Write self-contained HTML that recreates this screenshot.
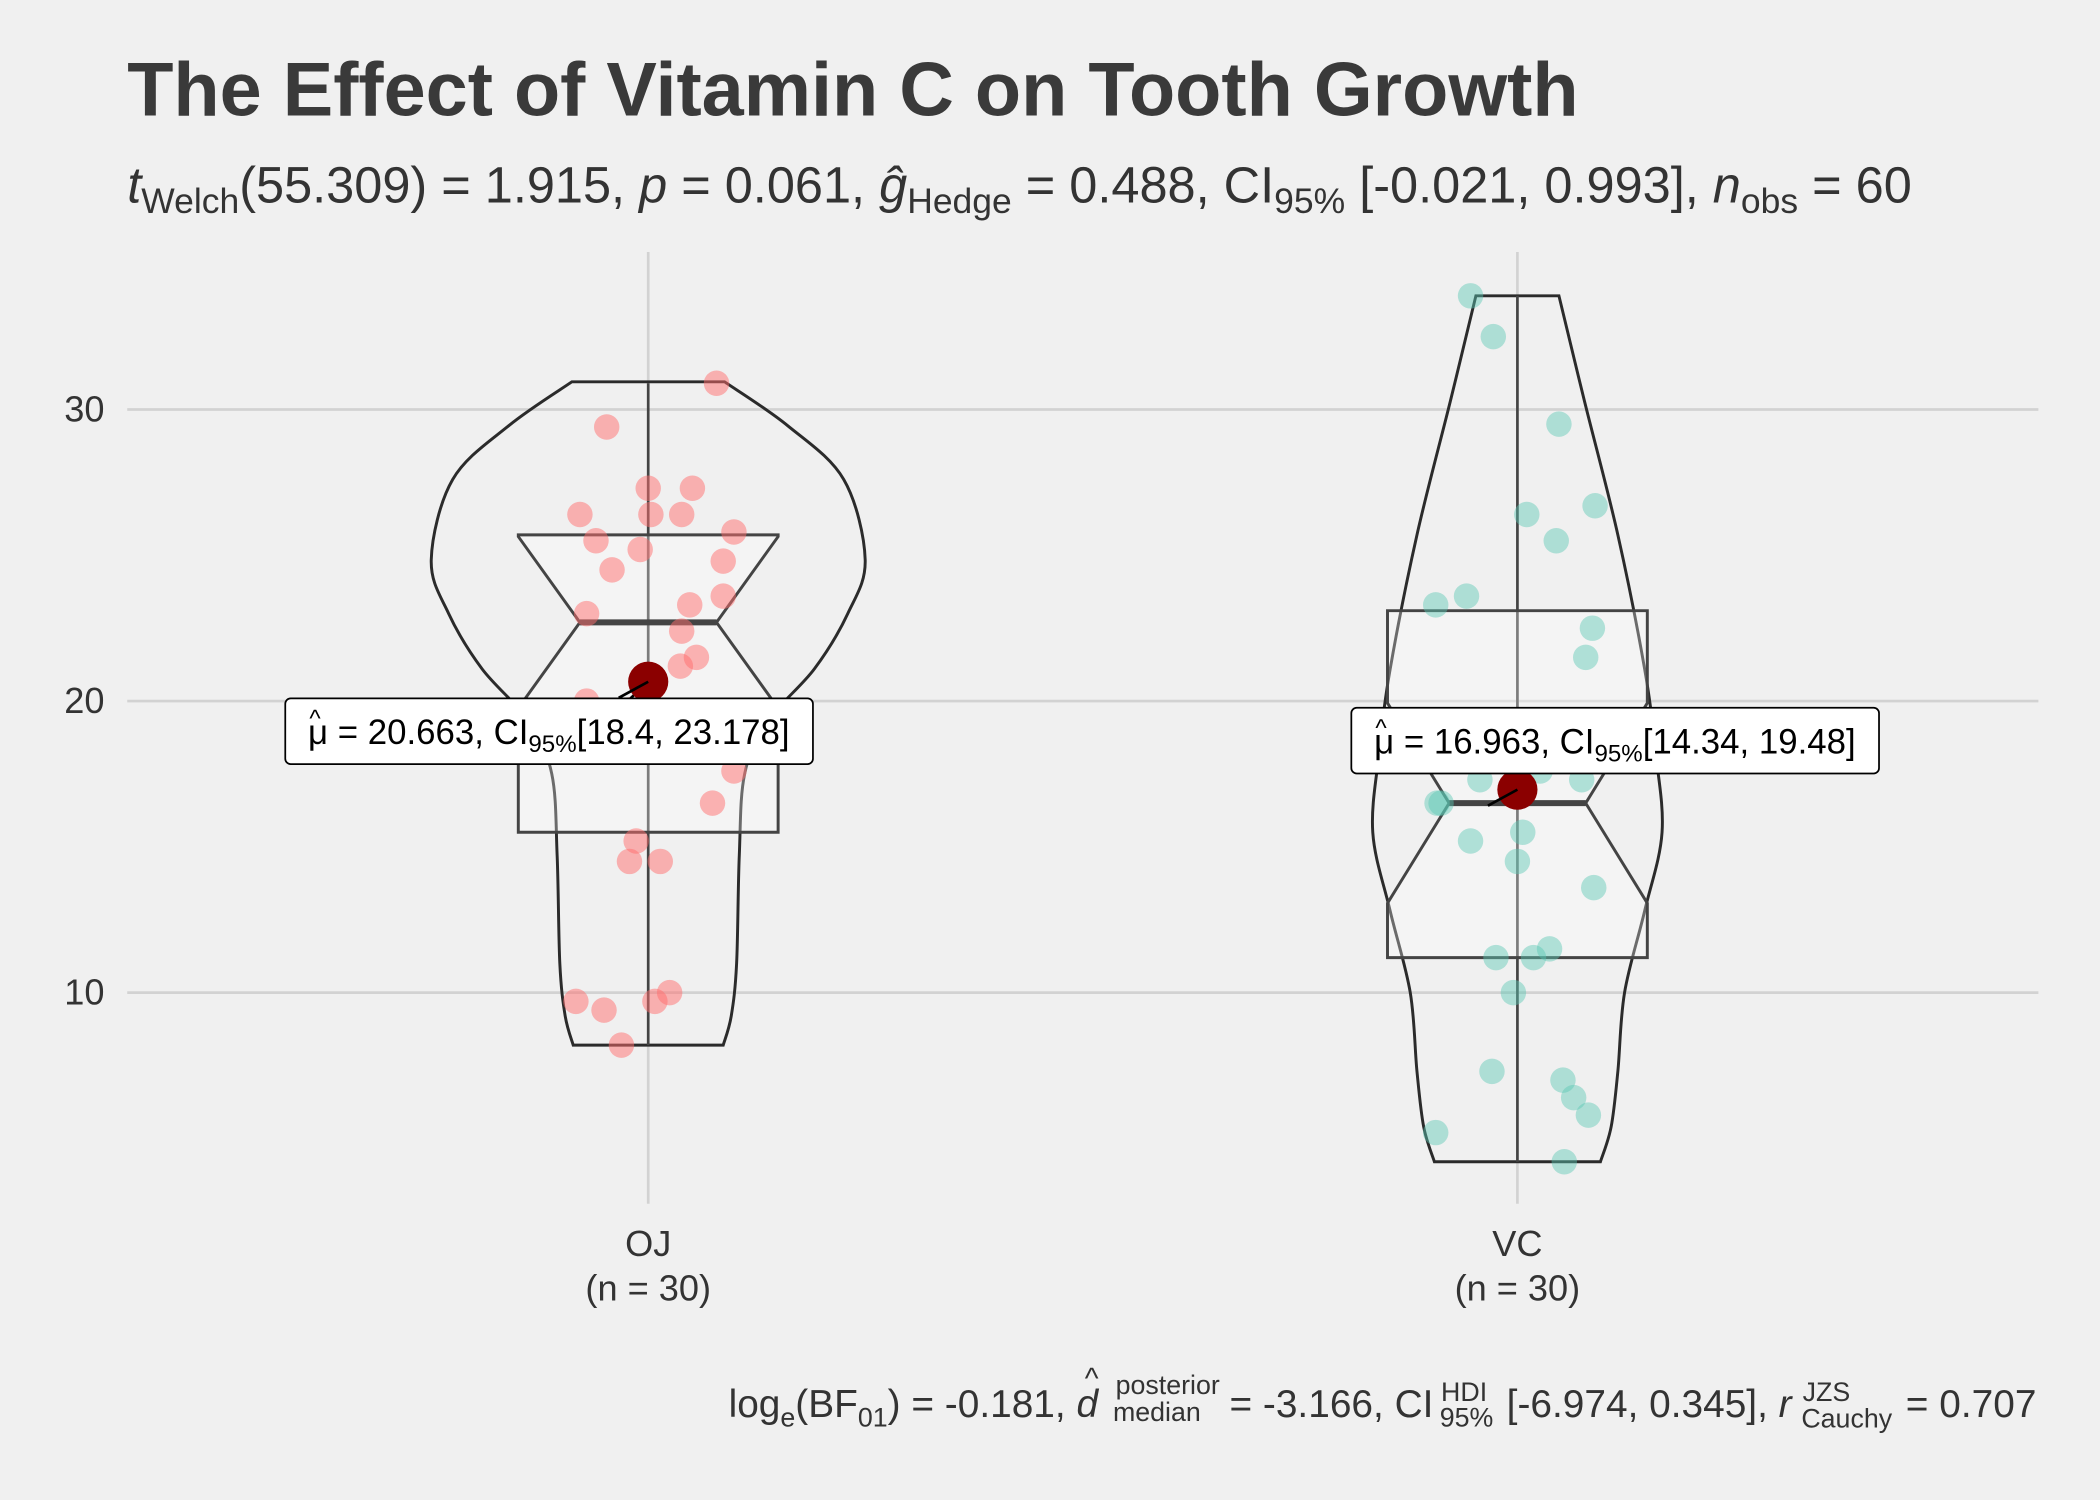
<!DOCTYPE html>
<html><head><meta charset="utf-8"><style>
html,body{margin:0;padding:0;background:#f0f0f0;}
svg{display:block;font-family:"Liberation Sans",Arial,sans-serif;}
</style></head><body>
<svg id="chart" width="2100" height="1500" viewBox="0 0 1568 1119" preserveAspectRatio="none" xmlns="http://www.w3.org/2000/svg">
<rect x="0" y="0" width="1568" height="1119" fill="#f0f0f0"/>
<text x="95" y="86" font-size="56.5" font-weight="bold" fill="#3a3a3a">The Effect of Vitamin C on Tooth Growth</text>
<text x="95" y="151" font-size="37.7" fill="#333"><tspan font-style="italic">t</tspan><tspan font-size="26.5" dy="8">Welch</tspan><tspan dy="-8">(55.309) = 1.915, </tspan><tspan font-style="italic">p</tspan><tspan> = 0.061, </tspan><tspan font-style="italic">ĝ</tspan><tspan font-size="26.5" dy="8">Hedge</tspan><tspan dy="-8"> = 0.488, CI</tspan><tspan font-size="26.5" dy="8">95%</tspan><tspan dy="-8"> [-0.021, 0.993], </tspan><tspan font-style="italic">n</tspan><tspan font-size="26.5" dy="8">obs</tspan><tspan dy="-8"> = 60</tspan></text>
<g id="grid"></g>
<g id="plot"></g>
<g font-size="29" fill="#333">
<text x="544" y="1057">log<tspan font-size="20" dy="7">e</tspan><tspan dy="-7">(BF</tspan><tspan font-size="20" dy="7">01</tspan><tspan dy="-7">) = -0.181, </tspan><tspan font-style="italic">d</tspan></text>
<text x="810" y="1036" font-size="22">^</text>
<text x="833" y="1040" font-size="20">posterior</text>
<text x="831" y="1060" font-size="20">median</text>
<text x="918" y="1057">= -3.166, CI</text>
<text x="1076" y="1045" font-size="20">HDI</text>
<text x="1075" y="1064" font-size="20">95%</text>
<text x="1125" y="1057">[-6.974, 0.345], <tspan font-style="italic">r</tspan></text>
<text x="1346" y="1045" font-size="20">JZS</text>
<text x="1345" y="1065" font-size="20">Cauchy</text>
<text x="1423" y="1057">= 0.707</text>
</g>
</svg>
<script>
const groups = ["OJ","VC"];
const groupN = [30,30];
const ojValues = [30.9,29.4,27.3,27.3,26.4,26.4,26.4,25.8,25.5,25.2,24.8,24.5,23.6,23.3,23.0,22.4,21.5,21.2,20.0,19.7,17.6,16.5,15.2,14.5,14.5,9.7,9.4,9.7,10.0,8.2];
const ojJitter = [51,-31,0,33,-51,2,25,64,-39,-6,56,-27,56,31,-46,25,36,24,-46,-14,64,48,-9,-14,9,-54,-33,5,16,-20];
const vcValues = [33.9,32.5,29.5,26.7,26.4,25.5,23.6,23.3,22.5,21.5,17.3,17.3,16.5,16.5,15.2,15.5,14.5,13.6,11.2,11.2,11.5,10.0,7.3,7.0,6.4,5.8,5.2,4.2,18.1,17.6];
const vcJitter = [-35,-18,31,58,7,29,-38,-61,56,51,-28,48,-60,-57,-35,4,0,57,-16,12,24,-3,-19,34,42,53,-61,35,-13,17];
const means = [20.663,16.963];
const meanLabels = ["20.663, CI|[18.4, 23.178]","16.963, CI|[14.34, 19.48]"];
const q1 = [15.5,11.2], med = [22.7,16.5], q3 = [25.7,23.1], wlo = [8.2,4.2], whi = [30.9,33.9];
const ojViolinY = [30.95,29.45,27.6,24.85,23.0,21.1,19.3,17.5,14.7,11.0,9.2,8.2];
const ojViolinW = [57,104,146,162,149,124,89,72,68,66,62,56];
const vcViolinY = [33.9,30.3,25.7,21.1,18.3,15.5,12.8,10.0,7.3,5.4,4.2];
const vcViolinW = [31,50,75,95,103,108,95,80,75,70,62];
const yTicks = [10,20,30];

const ns="http://www.w3.org/2000/svg";
const X = i => 484 + i*649;
const Y = v => 523 - (v-20)*21.75;
function mk(tag, attrs, parent){const e=document.createElementNS(ns,tag);for(const k in attrs)e.setAttribute(k,attrs[k]);parent.appendChild(e);return e;}
function smooth(pts){
  let d='';
  for(let k=0;k<pts.length-1;k++){
    const p0=pts[Math.max(k-1,0)],p1=pts[k],p2=pts[k+1],p3=pts[Math.min(k+2,pts.length-1)];
    const c1=[p1[0]+(p2[0]-p0[0])/6,p1[1]+(p2[1]-p0[1])/6];
    const c2=[p2[0]-(p3[0]-p1[0])/6,p2[1]-(p3[1]-p1[1])/6];
    d+=' C'+c1[0]+','+c1[1]+' '+c2[0]+','+c2[1]+' '+p2[0]+','+p2[1];
  }
  return d;
}
const grid=document.getElementById('grid'), plot=document.getElementById('plot');
yTicks.forEach(t=>{
  const l=mk('line',{x1:95,x2:1522,y1:Y(t),y2:Y(t),stroke:'#d2d2d2','stroke-width':2},grid);
  
  
  const tx=mk('text',{x:78,y:Y(t)+9,'text-anchor':'end','font-size':27,fill:'#333'},grid);
  tx.textContent=t;
  
  
});
groups.forEach((g,i)=>{
  const l=mk('line',{x1:X(i),x2:X(i),y1:188,y2:898,stroke:'#d2d2d2','stroke-width':2},grid);
  
  
  const t1=mk('text',{x:X(i),y:937,'text-anchor':'middle','font-size':27,fill:'#333'},grid);
  t1.textContent=g;
  
  
  const t2=mk('text',{x:X(i),y:970,'text-anchor':'middle','font-size':27,fill:'#333'},grid);
  t2.textContent='(n = '+groupN[i]+')';
  
  
});
const vY=[ojViolinY,vcViolinY], vW=[ojViolinW,vcViolinW];
const vals=[ojValues,vcValues], jit=[ojJitter,vcJitter];
const fills=['rgba(255,110,110,0.5)','rgba(90,200,180,0.45)'];
groups.forEach((g,i)=>{
  const cx=X(i);
  const left=vY[i].map((v,k)=>[cx-vW[i][k],Y(v)]);
  const right=vY[i].map((v,k)=>[cx+vW[i][k],Y(v)]).reverse();
  let d='M'+left[0][0]+','+left[0][1]+smooth(left)+' L'+right[0][0]+','+right[0][1]+smooth(right)+' Z';
  const v=mk('path',{d:d,fill:'none',stroke:'#2b2b2b','stroke-width':2.2},plot);
  
  
  const w=mk('line',{x1:cx,x2:cx,y1:Y(whi[i]),y2:Y(wlo[i]),stroke:'#444','stroke-width':2},plot);
  
  
  const iqr=q3[i]-q1[i], nh=1.58*iqr/Math.sqrt(groupN[i]);
  const nu=Math.min(med[i]+nh,q3[i]), nl=Math.max(med[i]-nh,q1[i]);
  const bw=97, nw=51;
  const bd='M'+(cx-bw)+','+Y(q3[i])+' L'+(cx+bw)+','+Y(q3[i])+' L'+(cx+bw)+','+Y(nu)+' L'+(cx+nw)+','+Y(med[i])+' L'+(cx+bw)+','+Y(nl)+' L'+(cx+bw)+','+Y(q1[i])+' L'+(cx-bw)+','+Y(q1[i])+' L'+(cx-bw)+','+Y(nl)+' L'+(cx-nw)+','+Y(med[i])+' L'+(cx-bw)+','+Y(nu)+' Z';
  const b=mk('path',{d:bd,fill:'rgba(255,255,255,0.3)',stroke:'#444','stroke-width':2.2},plot);
  
  
  const m=mk('line',{x1:cx-nw,x2:cx+nw,y1:Y(med[i]),y2:Y(med[i]),stroke:'#444','stroke-width':4.5},plot);
  
  
  vals[i].forEach((val,k)=>{
    const c=mk('circle',{cx:cx+jit[i][k],cy:Y(val),r:9.5,fill:fills[i]},plot);
    
    
  });
  const my=Y(means[i]);
  const ly=i==0?546:553, lx0=i==0?213:1009, lw=394;
  const ln=mk('line',{x1:cx,y1:my,x2:cx-25,y2:ly-14,stroke:'#000','stroke-width':2},plot);
  
  
  const md=mk('circle',{cx:cx,cy:my,r:15,fill:'#8b0000'},plot);
  
  
  const ln2=mk('line',{x1:cx,y1:my,x2:cx-22,y2:my+12,stroke:'#000','stroke-width':2},plot);
  
  
  const r=mk('rect',{x:lx0,y:ly-25,width:lw,height:49,rx:4,fill:'#fff',stroke:'#000','stroke-width':1.3},plot);
  
  
  const parts=meanLabels[i].split('|');
  const hat=mk('text',{x:lx0+18,y:ly-4,'font-size':18,fill:'#000'},plot);
  hat.textContent='^';
  
  
  const t=mk('text',{x:lx0+17,y:ly+9,'font-size':26,fill:'#000'},plot);
  
  
  const s1=mk('tspan',{},t); s1.textContent='μ = '+parts[0];
  const s2=mk('tspan',{'font-size':18,dy:6},t); s2.textContent='95%';
  const s3=mk('tspan',{dy:-6},t); s3.textContent=parts[1];
});
</script>
</body></html>
